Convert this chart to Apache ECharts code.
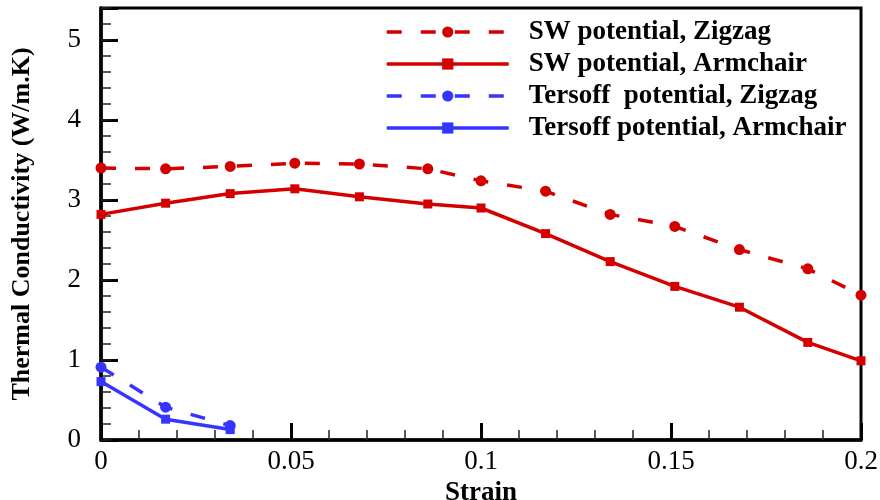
<!DOCTYPE html>
<html>
<head>
<meta charset="utf-8">
<script src="https://cdn.jsdelivr.net/npm/echarts@6/dist/echarts.min.js"></script>
<style>
  html, body { margin: 0; padding: 0; background: #fff; }
  #chart { width: 880px; height: 500px; }
</style>
</head>
<body>
<div id="chart"></div>
<script>
// Strain values at which the SW runs were sampled
const swStrain = [0, 0.017, 0.034, 0.051, 0.068, 0.086, 0.1, 0.117, 0.134, 0.151, 0.168, 0.186, 0.2];
const swZigzag = [3.40, 3.39, 3.42, 3.46, 3.45, 3.39, 3.24, 3.11, 2.82, 2.67, 2.38, 2.14, 1.81];
const swArmchair = [2.82, 2.96, 3.08, 3.14, 3.04, 2.95, 2.90, 2.58, 2.23, 1.92, 1.66, 1.22, 0.99];

// Tersoff runs only cover small strains
const tersoffStrain = [0, 0.017, 0.034];
const tersoffZigzag = [0.91, 0.41, 0.18];
const tersoffArmchair = [0.73, 0.26, 0.13];

const seriesNames = [
  'SW potential, Zigzag',
  'SW potential, Armchair',
  'Tersoff  potential, Zigzag',
  'Tersoff potential, Armchair'
];

const RED = '#d40000';
const BLUE = '#3535ff';
const SERIF = '"Liberation Serif", "Times New Roman", serif';
const DASH = [15, 19];

const pairs = (xs, ys) => xs.map((x, i) => [x, ys[i]]);

function lineSeries(name, xs, ys, color, dashed, symbol, size) {
  return {
    name: name,
    type: 'line',
    data: pairs(xs, ys),
    clip: false,
    symbol: symbol,
    symbolSize: size,
    showAllSymbol: true,
    itemStyle: { color: color },
    lineStyle: { color: color, width: 3.5, type: dashed ? DASH : 'solid' },
    z: 3
  };
}

const chart = echarts.init(document.getElementById('chart'), null, { renderer: 'canvas' });

chart.setOption({
  animation: false,
  backgroundColor: '#fff',
  grid: {
    left: 101, top: 8, width: 760, height: 432,
    outerBoundsMode: 'none',
    containLabel: false,
    show: true, borderColor: '#000', borderWidth: 3, backgroundColor: 'transparent'
  },
  legend: {
    orient: 'vertical',
    left: 380,
    top: 12,
    itemWidth: 122,
    itemHeight: 14,
    itemGap: 2,
    data: seriesNames,
    lineStyle: { width: 3.5 },
    textStyle: {
      fontFamily: SERIF, fontWeight: 'bold', fontSize: 27, color: '#000',
      lineHeight: 30, padding: [0, 0, 0, 15]
    }
  },
  xAxis: {
    type: 'value',
    min: 0, max: 0.2, interval: 0.05,
    name: 'Strain',
    nameLocation: 'middle',
    nameGap: 35,
    nameTextStyle: { fontFamily: SERIF, fontWeight: 'bold', fontSize: 27, color: '#000' },
    axisLine: { show: true, onZero: false, lineStyle: { color: '#000', width: 3.5 } },
    axisTick: { show: true, inside: true, length: 17, lineStyle: { color: '#000', width: 3 } },
    minorTick: { show: true, splitNumber: 5, length: 10, lineStyle: { color: '#222', width: 1.5 } },
    splitLine: { show: false },
    minorSplitLine: { show: false },
    axisLabel: { fontFamily: SERIF, fontSize: 27, color: '#000', margin: 8 }
  },
  yAxis: [
    {
      type: 'value',
      min: 0, max: 5.4, interval: 1,
      name: 'Thermal Conductivity (W/m.K)',
      nameLocation: 'middle',
      nameGap: 66,
      nameTextStyle: { fontFamily: SERIF, fontWeight: 'bold', fontSize: 26, color: '#000' },
      axisLine: { show: true, onZero: false, lineStyle: { color: '#000', width: 3.5 } },
      axisTick: { show: true, inside: true, length: 17, lineStyle: { color: '#000', width: 3 } },
      splitLine: { show: false },
      axisLabel: {
        fontFamily: SERIF, fontSize: 27, color: '#000', margin: 20,
        formatter: v => (Number.isInteger(v) ? String(v) : '')
      }
    },
    {
      // minor ticks every 0.2 along the conductivity axis
      type: 'value',
      position: 'left',
      min: 0, max: 5.4, interval: 0.2,
      axisLine: { show: false },
      axisTick: { show: true, inside: true, length: 10, lineStyle: { color: '#222', width: 1.5 } },
      axisLabel: { show: false },
      splitLine: { show: false }
    }
  ],
  series: [
    lineSeries(seriesNames[0], swStrain, swZigzag, RED, true, 'circle', 11),
    lineSeries(seriesNames[1], swStrain, swArmchair, RED, false, 'rect', 9),
    lineSeries(seriesNames[2], tersoffStrain, tersoffZigzag, BLUE, true, 'circle', 11),
    lineSeries(seriesNames[3], tersoffStrain, tersoffArmchair, BLUE, false, 'rect', 9)
  ]
});
</script>
</body>
</html>
